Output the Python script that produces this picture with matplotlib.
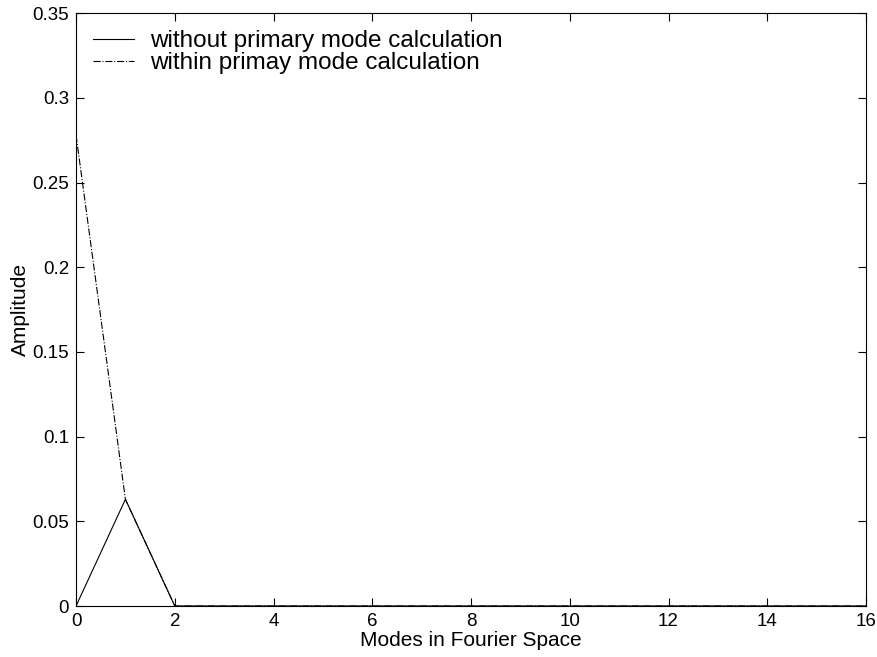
import numpy as np
import matplotlib.pyplot as plt

plt.rcParams['font.family'] = ['Liberation Sans', 'DejaVu Sans']

modes = np.arange(0, 17)
without_primary = [0, 0.063, 0, 0, 0, 0, 0, 0, 0, 0, 0, 0, 0, 0, 0, 0, 0]
within_primary = [0.278, 0.063, 0, 0, 0, 0, 0, 0, 0, 0, 0, 0, 0, 0, 0, 0, 0]

fig = plt.figure(figsize=(8.77, 6.57), dpi=100)
ax = fig.add_axes([0.0867, 0.0776, 0.9008, 0.9024])

ax.plot(modes, without_primary, 'k-', lw=0.8, label='without primary mode calculation')
ax.plot(modes, within_primary, 'k-.', lw=0.8, label='within primay mode calculation')

ax.set_xlim(0, 16)
ax.set_ylim(0, 0.35)
ax.set_xticks(np.arange(0, 17, 2))
ax.set_yticks([0, 0.05, 0.1, 0.15, 0.2, 0.25, 0.3, 0.35])
ax.set_yticklabels(['0', '0.05', '0.1', '0.15', '0.2', '0.25', '0.3', '0.35'])
ax.tick_params(direction='in', top=True, right=True, labelsize=13.5, length=6, pad=5)
ax.set_xlabel('Modes in Fourier Space', fontsize=15, labelpad=1)
ax.set_ylabel('Amplitude', fontsize=15, labelpad=2)
ax.legend(loc='upper left', frameon=False, fontsize=17.5, handlelength=1.7,
          borderaxespad=0.4, borderpad=0.3, labelspacing=0.0, handletextpad=0.65)

fig.savefig('out.png', dpi=100)
